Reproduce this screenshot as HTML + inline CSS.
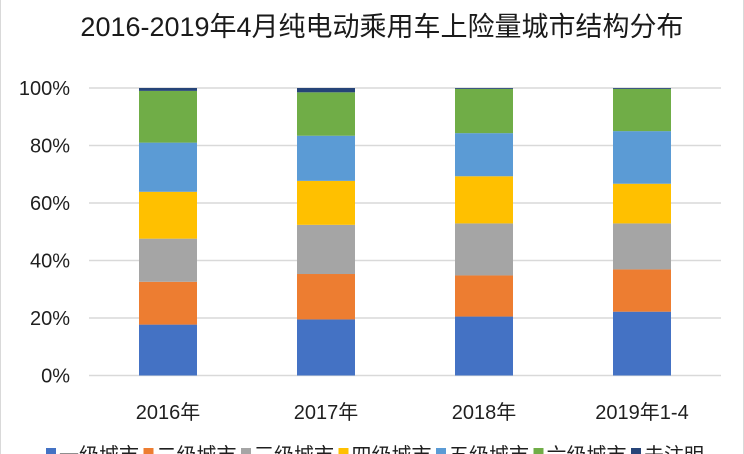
<!DOCTYPE html>
<html><head><meta charset="utf-8"><style>
html,body{margin:0;padding:0;background:#fff;}
svg{display:block;font-family:"Liberation Sans","Noto Sans CJK SC",sans-serif;}
</style></head><body>
<svg width="744" height="454" viewBox="0 0 744 454">
<rect x="0.5" y="-2" width="743" height="470" fill="#fff" stroke="#d9d9d9"/>
<text x="382" y="36" text-anchor="middle" font-size="27" fill="#1a1a1a">2016-2019年4月纯电动乘用车上险量城市结构分布</text>
<g id="grid"></g><g id="bars"></g><g id="labels"></g><g id="legend"></g>
</svg>
<script>
const categories=["2016年","2017年","2018年","2019年1-4"];
const seriesNames=["一级城市","二级城市","三级城市","四级城市","五级城市","六级城市","未注明"];
const s1=[17.7,19.5,20.5,22.2];
const s2=[14.9,15.8,14.3,14.7];
const s3=[15.0,17.1,18.1,16.0];
const s4=[16.3,15.3,16.4,13.8];
const s5=[17.1,15.7,15.0,18.3];
const s6=[18.0,15.1,15.4,14.7];
const s7=[1.0,1.5,0.3,0.3];
const ticks=[0,20,40,60,80,100];
const tickLabels=["0%","20%","40%","60%","80%","100%"];
const colors=["#4472c4","#ed7d31","#a5a5a5","#ffc000","#5b9bd5","#70ad47","#264478"];
const series=[s1,s2,s3,s4,s5,s6,s7];
const NS="http://www.w3.org/2000/svg";
const x0=89,x1=721,yTop=88,yBot=375.5;
const y=v=>yBot-(yBot-yTop)*v/100;
const band=(x1-x0)/categories.length;
const xc=i=>x0+band*(i+0.5);
const bw=58;
const txtCol='#1f1f1f';
function mk(t,a,p){const e=document.createElementNS(NS,t);for(const k in a)e.setAttribute(k,a[k]);p.appendChild(e);return e;}
const grid=document.getElementById('grid'),bars=document.getElementById('bars'),labels=document.getElementById('labels'),legend=document.getElementById('legend');
ticks.forEach((t,i)=>{
 const l=mk('line',{x1:x0,x2:x1,y1:y(t),y2:y(t),stroke:'#d9d9d9','stroke-width':1.5},grid);
 
 
 const tx=mk('text',{x:70,y:y(t)+7,'text-anchor':'end','font-size':20,fill:txtCol},labels);
 tx.textContent=tickLabels[i];
 
 
});
categories.forEach((c,i)=>{
 let acc=0;
 series.forEach((s,k)=>{
  const r=mk('rect',{x:xc(i)-bw/2,y:y(acc+s[i]),width:bw,height:y(acc)-y(acc+s[i]),fill:colors[k]},bars);
  
  
  acc+=s[i];
 });
 const tx=mk('text',{x:xc(i),y:419,'text-anchor':'middle','font-size':20,fill:txtCol},labels);
 tx.textContent=c;
 
 
});
let lx=46;
seriesNames.forEach((n,k)=>{
 const r=mk('rect',{x:lx,y:448,width:10,height:10,fill:colors[k]},legend);
 
 
 const tx=mk('text',{x:lx+13,y:462,'font-size':20,fill:txtCol},legend);
 tx.textContent=n;
 
 
 lx+=97.5;
});
</script>
</body></html>
